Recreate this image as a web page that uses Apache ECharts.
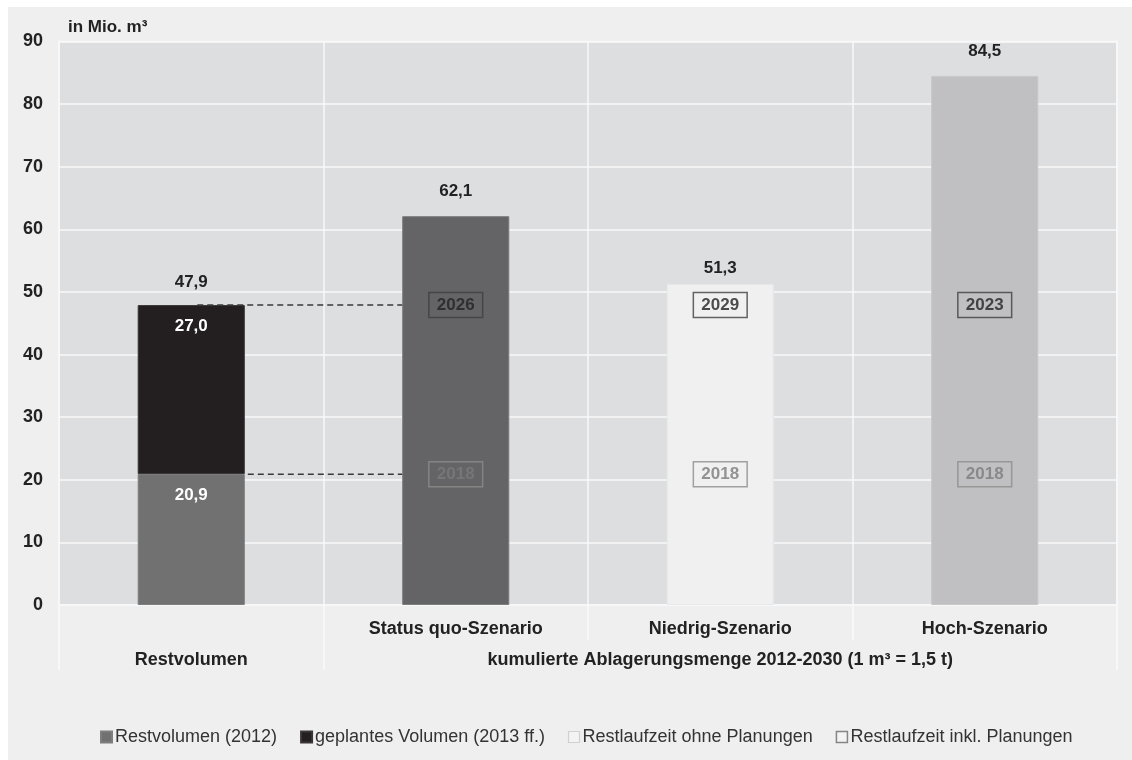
<!DOCTYPE html>
<html>
<head>
<meta charset="utf-8">
<script src="https://cdn.jsdelivr.net/npm/echarts@6/dist/echarts.min.js"></script>
<style>
html,body{margin:0;padding:0;background:#ffffff;}
#c{position:absolute;left:8px;top:7px;width:1124px;height:753px;}
</style>
</head>
<body>
<div id="c"></div>
<script>
// ---- data ----
const categories = ['', 'Status quo-Szenario', 'Niedrig-Szenario', 'Hoch-Szenario'];
const groupLabels = ['Restvolumen', '', 'kumulierte Ablagerungsmenge 2012-2030 (1 m³ = 1,5 t)', ''];
const restvolumen = [20.9, null, null, null];
const geplant = [27.0, null, null, null];
const szenarien = [null, 62.1, 51.3, 84.5];
const yearsInkl = ['', '2026', '2029', '2023'];
const yearsOhne = ['', '2018', '2018', '2018'];
const yTicks = [0, 10, 20, 30, 40, 50, 60, 70, 80, 90];

const total = restvolumen[0] + geplant[0];
const fmt = v => v.toFixed(1).replace('.', ',');
const FONT = '"Liberation Sans", Arial, sans-serif';
const BARW = 0.405;

const scenColors = [null, '#646466', '#eff0ef', '#c0c0c2'];
const scenBorders = [null, '#7c7c7e', '#e6e7e6', '#c8c8ca'];

const chart = echarts.init(document.getElementById('c'));
chart.setOption({
  backgroundColor: '#eeefee',
  animation: false,
  textStyle: { fontFamily: FONT },
  title: {
    text: 'in Mio. m³', left: 60, top: 12, padding: 0,
    textStyle: { fontSize: 17, fontWeight: 'bold', color: '#222', fontFamily: FONT }
  },
  grid: {
    left: 51, right: 15, top: 34.5, bottom: 155, show: true,
    backgroundColor: '#dddee0', borderColor: '#f8f8f8', borderWidth: 1.5
  },
  legend: {
    top: 716, left: 87,
    itemWidth: 11, itemHeight: 11, itemGap: 23,
    textStyle: { fontSize: 18, color: '#333', fontFamily: FONT, padding: [0, 0, 0, -2] },
    data: [
      { name: 'Restvolumen (2012)', icon: 'rect', itemStyle: { color: '#717172' } },
      { name: 'geplantes Volumen (2013 ff.)', icon: 'rect', itemStyle: { color: '#231f20' } },
      { name: 'Restlaufzeit ohne Planungen', icon: 'rect', itemStyle: { color: '#f4f4f4', borderColor: '#c8c8c8', borderWidth: 1.2 } },
      { name: 'Restlaufzeit inkl. Planungen', icon: 'rect', itemStyle: { color: '#f4f4f4', borderColor: '#6a6a6a', borderWidth: 1.5 } }
    ]
  },
  xAxis: [
    {
      type: 'category', data: categories, boundaryGap: true,
      axisLine: { show: false },
      axisTick: { show: true, length: 35, lineStyle: { color: '#fafafa', width: 1.5 } },
      splitLine: { show: true, lineStyle: { color: '#f8f8f8', width: 1.5 } },
      axisLabel: { margin: 15, fontSize: 18, fontWeight: 'bold', color: '#222', fontFamily: FONT }
    },
    {
      type: 'category', data: groupLabels, boundaryGap: true, position: 'bottom',
      axisLine: { show: false },
      axisTick: { show: true, length: 65, interval: (i) => i === 0 || i === 1, lineStyle: { color: '#fafafa', width: 1.5 } },
      splitLine: { show: false },
      axisLabel: { margin: 46, interval: 0, fontSize: 18, fontWeight: 'bold', color: '#222', fontFamily: FONT }
    }
  ],
  yAxis: {
    type: 'value', min: yTicks[0], max: yTicks[yTicks.length - 1], interval: 10,
    axisLine: { show: false }, axisTick: { show: false },
    splitLine: { show: true, lineStyle: { color: '#f8f8f8', width: 1.5 } },
    axisLabel: { margin: 16, fontSize: 18, fontWeight: 'bold', color: '#222', fontFamily: FONT }
  },
  series: [
    {
      name: 'Restvolumen (2012)', type: 'bar', stack: 'a', barWidth: (BARW * 100) + '%',
      data: restvolumen,
      itemStyle: { color: '#717172', borderColor: '#7e7e7f', borderWidth: 1 },
      label: { show: true, position: 'insideTop', distance: 13, color: '#fff', fontSize: 17, fontWeight: 'bold',
        formatter: p => p.value == null ? '' : fmt(p.value) }
    },
    {
      name: 'geplantes Volumen (2013 ff.)', type: 'bar', stack: 'a', barWidth: (BARW * 100) + '%',
      data: geplant,
      itemStyle: { color: '#231f20', borderColor: '#3a3637', borderWidth: 1 },
      label: { show: true, position: 'insideTop', distance: 13, color: '#fff', fontSize: 17, fontWeight: 'bold',
        formatter: p => p.value == null ? '' : fmt(p.value) }
    },
    {
      name: 'Szenario', type: 'bar', stack: 'a', barWidth: (BARW * 100) + '%',
      data: szenarien.map((v, i) => v == null ? null : {
        value: v,
        itemStyle: { color: scenColors[i], borderColor: scenBorders[i], borderWidth: 1 },
        label: { distance: i === 2 ? 7 : 16 }
      }),
      label: { show: true, position: 'top', color: '#222', fontSize: 17, fontWeight: 'bold',
        formatter: p => p.value == null ? '' : fmt(p.value) }
    },
    {
      name: 'Linien', type: 'custom', z: 4,
      data: [[0, total], [0, restvolumen[0]]],
      renderItem: (params, api) => {
        const y = api.value(1);
        const p0 = api.coord([0, y]);
        const p1 = api.coord([1, y]);
        const band = api.size([1, 0])[0];
        const half = band * BARW / 2;
        const x0 = params.dataIndex === 0 ? p0[0] + 6 : p0[0] + half + 3;
        const x1 = p1[0] - half;
        const children = [{
          type: 'line',
          shape: { x1: x0, y1: p0[1], x2: x1, y2: p1[1] },
          style: { stroke: '#3a3a3a', lineWidth: 1.5, lineDash: [6, 4] }
        }];
        if (params.dataIndex === 0) {
          children.push({
            type: 'text',
            style: { text: fmt(y), x: p0[0], y: p0[1] - 23, align: 'center', verticalAlign: 'middle',
              fill: '#222', font: 'bold 17px ' + FONT }
          });
        }
        return { type: 'group', children };
      }
    },
    {
      name: 'Restlaufzeit ohne Planungen', type: 'scatter', symbol: 'rect', symbolSize: 1,
      itemStyle: { color: 'rgba(0,0,0,0)' },
      data: yearsOhne.map((y, i) => y ? [i, restvolumen[0]] : null).filter(d => d),
      label: { show: true, position: 'inside', color: '#7a7a7a', fontSize: 17, fontWeight: 'bold', lineHeight: 18,
        borderColor: '#8c8c8c', borderWidth: 1.5, padding: [4, 8, 3, 8],
        formatter: p => yearsOhne[p.value[0]] },
      z: 6
    },
    {
      name: 'Restlaufzeit inkl. Planungen', type: 'scatter', symbol: 'rect', symbolSize: 1,
      itemStyle: { color: 'rgba(0,0,0,0)' },
      data: yearsInkl.map((y, i) => y ? [i, total] : null).filter(d => d),
      label: { show: true, position: 'inside', color: '#222', fontSize: 17, fontWeight: 'bold', lineHeight: 18,
        borderColor: '#3e3e3e', borderWidth: 1.5, padding: [4, 8, 3, 8],
        formatter: p => yearsInkl[p.value[0]] },
      z: 6
    }
  ]
});
</script>
</body>
</html>
